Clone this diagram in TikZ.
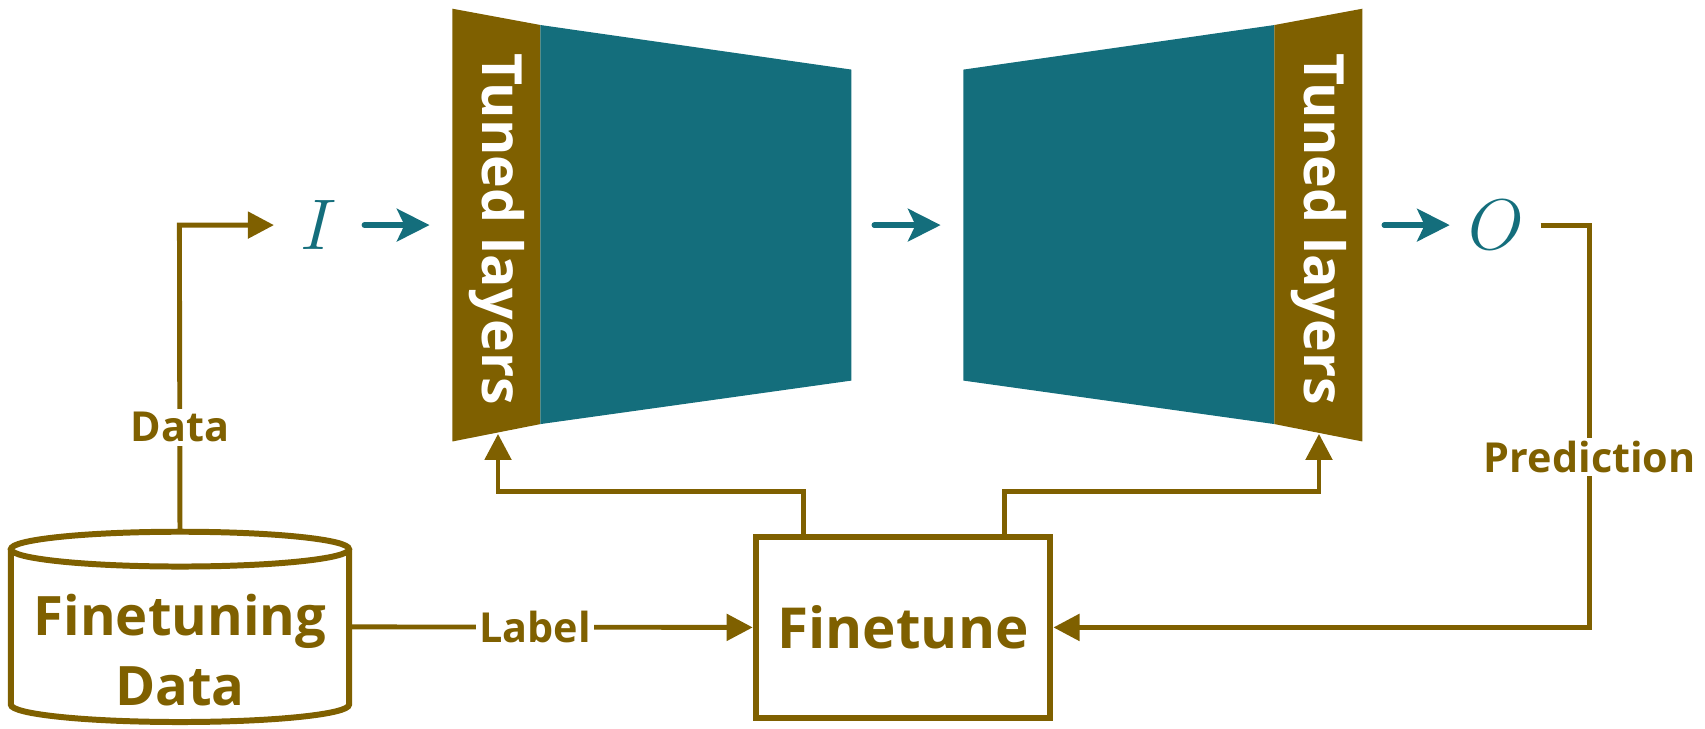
\documentclass[tikz,border=0pt]{standalone}
\usepackage{fix-cm}
\usepackage{fontspec}
\setmainfont{Open Sans}
\usetikzlibrary{arrows.meta}
\definecolor{brn}{HTML}{7F6000}
\definecolor{tl}{HTML}{146E7C}
\begin{document}
\begin{tikzpicture}[x=1pt,y=-1pt,
  bline/.style={draw=brn, line width=4.5pt},
  btip/.style={-{Triangle[length=24pt,width=24pt]}},
  tarrow/.style={draw=tl, line width=5pt, line cap=round, -{Stealth[length=30pt,width=30pt,inset=7pt]}},
  lbl/.style={fill=white, text=brn, inner sep=3pt, font=\fontsize{38}{40}\selectfont\bfseries},
  layertxt/.style={rotate=-90, text=white, inner sep=0pt, font=\fontsize{51}{53}\selectfont\bfseries},
  mathlbl/.style={text=tl, inner sep=0pt, font=\fontsize{66}{66}\selectfont}]
\useasboundingbox (0,0) rectangle (1568,670);
% encoder
\fill[brn] (416,8) -- (497,23) -- (497,390) -- (416,406) -- cycle;
\fill[tl] (497,23) -- (783,64) -- (783,350) -- (497,390) -- cycle;
% decoder
\fill[tl] (886,64) -- (1172,23) -- (1172,390) -- (886,350) -- cycle;
\fill[brn] (1172,23) -- (1253,8) -- (1253,406) -- (1172,390) -- cycle;
\node[layertxt] (tunedA) at (457,211) {Tuned layers};
\node[layertxt] (tunedB) at (1213,211) {Tuned layers};
\coordinate (encW) at (416,207);
\coordinate (encE) at (783,207);
\coordinate (decW) at (886,207);
\coordinate (decE) at (1253,207);
\coordinate (tipA) at (458,399);
\coordinate (tipB) at (1213,399);
% I and O
\node[mathlbl] (I) at (293,207) {$I$};
\node[mathlbl] (O) at (1376,207) {$O$};
\draw[tarrow, shorten <=25pt, shorten >=21pt] (I.east) -- (encW);
\draw[tarrow, shorten <=21pt, shorten >=21pt] (encE) -- (decW);
\draw[tarrow, shorten <=20pt, shorten >=17pt] (decE) -- (O.west);
% cylinder
\draw[brn, line width=5.5pt] (10,505) -- (10,648) arc[start angle=180, end angle=0, x radius=155.5, y radius=16] -- (321,505);
\draw[brn, line width=5.5pt] (165.5,505) ellipse [x radius=155.5, y radius=16];
\node[minimum width=311pt, minimum height=175pt, inner sep=0pt] (cyl) at (165.5,576.5) {};
\node[text=brn, align=center, font=\fontsize{50}{64}\selectfont\bfseries] (cyltxt) at (165.5,598) {Finetuning\\Data};
% finetune box
\node[draw=brn, line width=5.5pt, minimum width=271pt, minimum height=166pt, text=brn, font=\fontsize{52}{56}\selectfont\bfseries] (ft) at (830.5,577) {Finetune};
% connectors
\draw[bline, btip] (cyl.north) -- node[lbl, pos=0.34] {Data} (165,207) -- ([xshift=-24pt]I.west);
\draw[bline, btip] (cyl.east) -- node[lbl, pos=0.46] {Label} (ft.west);
\coordinate (pc1) at (1462,207);
\coordinate (pc2) at (1462,577);
\draw[bline, btip, shorten <=15pt] (O.east) -- (pc1) -- node[lbl, pos=0.576] {Prediction} (pc2) -- (ft.east);
\draw[bline, btip] ([xshift=-91.5pt]ft.north) -- ++(0,-39) -| (tipA);
\draw[bline, btip] ([xshift=93.5pt]ft.north) -- ++(0,-39) -| (tipB);
\end{tikzpicture}
\end{document}
